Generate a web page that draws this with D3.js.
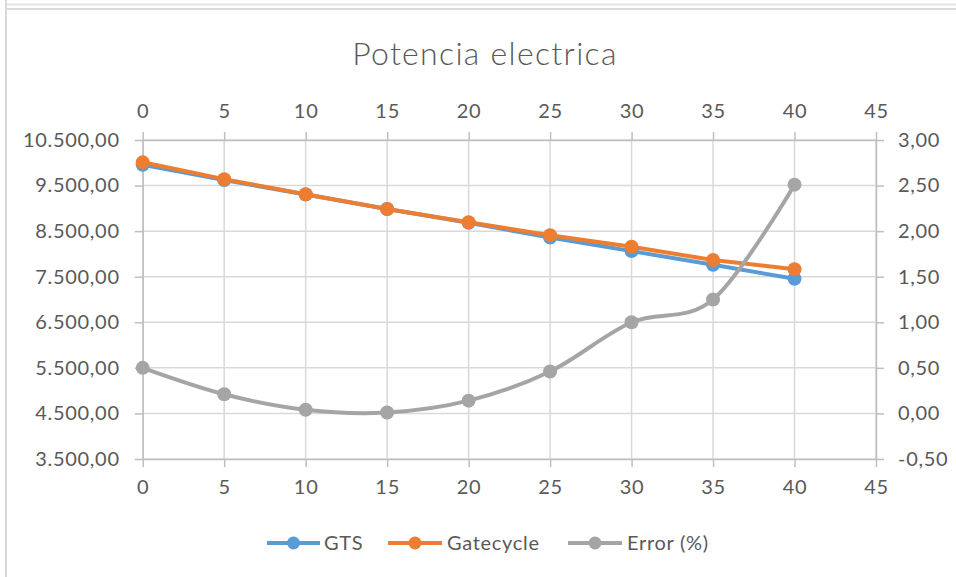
<!DOCTYPE html>
<html>
<head>
<meta charset="utf-8">
<script src="https://cdn.jsdelivr.net/npm/d3@7"></script>
<style>
  html, body { margin: 0; padding: 0; background: #fff; }
  svg { display: block; }
  text { font-family: Lato, "Open Sans", sans-serif; fill: #595959; }
</style>
</head>
<body>
<svg id="chart" width="956" height="577"></svg>
<script>
// Temperature steps (shared x values)
const xValues = [0, 5, 10, 15, 20, 25, 30, 35, 40];
// Electric power per model
const gtsValues = [9955, 9620, 9305, 8985, 8683, 8362, 8062, 7762, 7455];
const gatecycleValues = [10010, 9641, 9309, 8986, 8694, 8412, 8157, 7866, 7665];
// Relative difference between models (%)
const errorValues = [0.50, 0.21, 0.04, 0.01, 0.14, 0.46, 1.00, 1.25, 2.51];

const xTicks = [0, 5, 10, 15, 20, 25, 30, 35, 40, 45];
const leftTicks = [3500, 4500, 5500, 6500, 7500, 8500, 9500, 10500];
const rightTicks = [-0.5, 0, 0.5, 1, 1.5, 2, 2.5, 3];

const seriesNames = ["GTS", "Gatecycle", "Error (%)"];
const seriesColors = ["#5B9BD5", "#ED7D31", "#A5A5A5"];

const locale = d3.formatLocale({ decimal: ",", thousands: ".", grouping: [3], currency: ["", ""], minus: "-" });
const fmtLeft = locale.format(",.2f");
const fmtRight = locale.format(".2f");

const svg = d3.select("#chart");

// frame lines
svg.append("line").attr("x1", 5).attr("x2", 956).attr("y1", 4.5).attr("y2", 4.5)
  .attr("stroke", "#E3E3E3").attr("stroke-width", 2);
svg.append("line").attr("x1", 5).attr("x2", 956).attr("y1", 9).attr("y2", 9)
  .attr("stroke", "#D9D9D9").attr("stroke-width", 2);
svg.append("line").attr("x1", 6).attr("x2", 6).attr("y1", 0).attr("y2", 577)
  .attr("stroke", "#D9D9D9").attr("stroke-width", 2);

const plotLeft = 142.7, plotRight = 876, plotTop = 140, plotBottom = 459;
const x = d3.scaleLinear().domain([0, 45]).range([plotLeft, plotRight]);
const yL = d3.scaleLinear().domain([3500, 10500]).range([plotBottom, plotTop]);
const yR = d3.scaleLinear().domain([-0.5, 3]).range([plotBottom, plotTop]);

// title
svg.append("text").attr("x", 485).attr("y", 65).attr("text-anchor", "middle")
  .style("font-size", "32px").style("font-weight", 300).style("letter-spacing", "1.3px")
  .text("Potencia electrica");

// gridlines
const grid = svg.append("g");
grid.selectAll(".hg").data(leftTicks).join("line")
  .attr("x1", plotLeft).attr("x2", plotRight)
  .attr("y1", d => yL(d)).attr("y2", d => yL(d))
  .attr("stroke", "#D9D9D9").attr("stroke-width", 1.5);
grid.selectAll(".vg").data(xTicks).join("line")
  .attr("x1", d => x(d)).attr("x2", d => x(d))
  .attr("y1", plotTop).attr("y2", plotBottom)
  .attr("stroke", "#D9D9D9").attr("stroke-width", 1.5);

// axes
function styleAxis(g) {
  g.select(".domain").attr("stroke", "#BFBFBF").attr("stroke-width", 1.5);
  g.selectAll(".tick line").attr("stroke", "#BFBFBF").attr("stroke-width", 1.5);
  g.selectAll(".tick text").style("font-size", "20px").style("letter-spacing", "0.7px").attr("fill", "#595959");
}
svg.append("g").attr("transform", `translate(0,${plotBottom})`)
  .call(d3.axisBottom(x).tickValues(xTicks).tickSize(8).tickSizeOuter(0).tickPadding(13).tickFormat(d3.format("d")))
  .call(styleAxis);
svg.append("g").attr("transform", `translate(0,${plotTop})`)
  .call(d3.axisTop(x).tickValues(xTicks).tickSize(8).tickSizeOuter(0).tickPadding(14).tickFormat(d3.format("d")))
  .call(styleAxis);
svg.append("g").attr("transform", `translate(${plotLeft},0)`)
  .call(d3.axisLeft(yL).tickValues(leftTicks).tickSize(8).tickSizeOuter(0).tickPadding(15).tickFormat(fmtLeft))
  .call(styleAxis);
svg.append("g").attr("transform", `translate(${plotRight},0)`)
  .call(d3.axisRight(yR).tickValues(rightTicks).tickSize(8).tickSizeOuter(0).tickPadding(14).tickFormat(fmtRight))
  .call(styleAxis);

// series
const series = [
  { name: seriesNames[0], color: seriesColors[0], values: gtsValues, y: yL, curve: d3.curveLinear },
  { name: seriesNames[1], color: seriesColors[1], values: gatecycleValues, y: yL, curve: d3.curveLinear },
  { name: seriesNames[2], color: seriesColors[2], values: errorValues, y: yR, curve: d3.curveCardinal.tension(0) }
];

series.forEach(s => {
  const pts = xValues.map((xv, i) => [x(xv), s.y(s.values[i])]);
  const line = d3.line().curve(s.curve);
  svg.append("path").attr("d", line(pts)).attr("fill", "none")
    .attr("stroke", s.color).attr("stroke-width", 4).attr("stroke-linejoin", "round").attr("stroke-linecap", "round");
  svg.append("g").selectAll("circle").data(pts).join("circle")
    .attr("cx", d => d[0]).attr("cy", d => d[1]).attr("r", 7).attr("fill", s.color);
});

// legend
const legendItems = [
  { x1: 267, x2: 320, tx: 324 },
  { x1: 388, x2: 442, tx: 447 },
  { x1: 568, x2: 622, tx: 627 }
];
const ly = 543;
legendItems.forEach((li, i) => {
  svg.append("line").attr("x1", li.x1).attr("x2", li.x2).attr("y1", ly).attr("y2", ly)
    .attr("stroke", seriesColors[i]).attr("stroke-width", 4);
  svg.append("circle").attr("cx", (li.x1 + li.x2) / 2).attr("cy", ly).attr("r", 6.5).attr("fill", seriesColors[i]);
  svg.append("text").attr("x", li.tx).attr("y", ly).attr("dy", "0.35em")
    .style("font-size", "20px").style("letter-spacing", "0.7px").text(seriesNames[i]);
});
</script>
</body>
</html>
